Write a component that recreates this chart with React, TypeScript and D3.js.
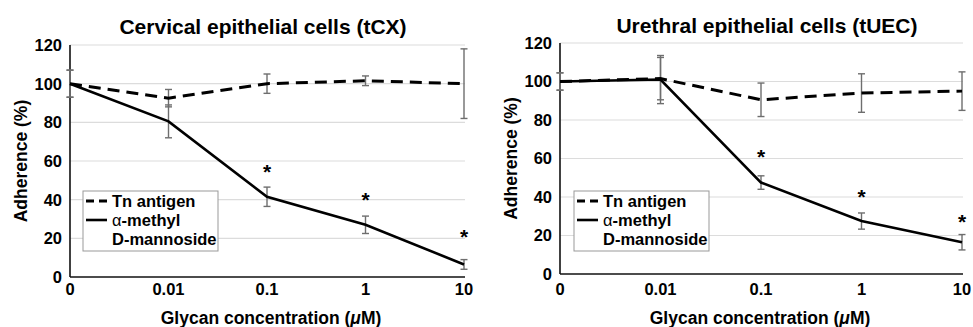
import React from "react";
import * as d3 from "d3";

const categories = ["0", "0.01", "0.1", "1", "10"];
const yTicks = [0, 20, 40, 60, 80, 100, 120];

const cxTitle = "Cervical epithelial cells (tCX)";
const cxTnMean = [100, 92.5, 100, 101.5, 100];
const cxTnErr = [7, 4.5, 5, 2.5, 18];
const cxManMean = [100, 80.5, 41.5, 27, 6.5];
const cxManErr = [7, 8.5, 5, 4.5, 2.5];
const cxStar = [null, null, 57, 42.5, 23.5];

const uecTitle = "Urethral epithelial cells (tUEC)";
const uecTnMean = [100, 101.5, 90.5, 94, 95];
const uecTnErr = [4.5, 11, 8.7, 10, 10];
const uecManMean = [100, 101, 47.5, 27.5, 16.5];
const uecManErr = [4.5, 12.5, 3.5, 4.2, 4];
const uecStar = [null, null, 63.5, 42.5, 29.5];

const seriesNames = ["Tn antigen", "α-methyl", "D-mannoside"];

const FONT = "'Liberation Sans', Arial, Helvetica, sans-serif";

type PanelProps = {
  title: string;
  tnMean: number[];
  tnErr: number[];
  manMean: number[];
  manErr: number[];
  stars: (number | null)[];
  xr: [number, number];
  yr: [number, number];
  gridEnd: number;
  titleX: number;
  titleY: number;
  yTitleX: number;
  xTitleX: number;
  legX: number;
  legY: number;
};

function Panel(p: PanelProps) {
  const x = d3.scalePoint<string>().domain(categories).range(p.xr).padding(0);
  const y = d3.scaleLinear().domain([0, 120]).range(p.yr);
  const line = d3
    .line<number>()
    .x((_, i) => x(categories[i]) as number)
    .y((d) => y(d));
  const axisX = p.xr[0];
  const errColor = "#6e6e6e";
  const bars = (mean: number[], err: number[], key: string) =>
    mean.map((m, i) => {
      const cx = x(categories[i]) as number;
      const y1 = y(m + err[i]);
      const y2 = y(m - err[i]);
      return (
        <g key={key + i} stroke={errColor} strokeWidth={1.4}>
          <line x1={cx} x2={cx} y1={y1} y2={y2} />
          <line x1={cx - 3.5} x2={cx + 3.5} y1={y1} y2={y1} />
          <line x1={cx - 3.5} x2={cx + 3.5} y1={y2} y2={y2} />
        </g>
      );
    });
  const lx = p.legX;
  const ly = p.legY;
  return (
    <g fontFamily={FONT} fontWeight="bold">
      {yTicks.slice(1).map((t) => (
        <line key={"g" + t} x1={axisX} x2={p.gridEnd} y1={y(t)} y2={y(t)} stroke="#dcdcdc" strokeWidth={1.2} />
      ))}
      <line x1={axisX} x2={axisX} y1={y(120)} y2={y(0)} stroke="#111" strokeWidth={1.6} />
      <line x1={axisX} x2={p.gridEnd} y1={y(0)} y2={y(0)} stroke="#111" strokeWidth={1.6} />
      {yTicks.map((t) => (
        <text key={"yt" + t} x={axisX - 8} y={y(t)} dy="0.36em" textAnchor="end" fontSize={16.5}>
          {t}
        </text>
      ))}
      {categories.map((c) => (
        <text key={"xt" + c} x={x(c) as number} y={295} textAnchor="middle" fontSize={16.5}>
          {c}
        </text>
      ))}
      <text x={p.titleX} y={p.titleY} textAnchor="middle" fontSize={21}>
        {p.title}
      </text>
      <text x={p.xTitleX} y={324} textAnchor="middle" fontSize={17.5}>
        Glycan concentration (<tspan fontStyle="italic">μ</tspan>M)
      </text>
      <text
        transform={`translate(${p.yTitleX},${(p.yr[0] + p.yr[1]) / 2}) rotate(-90)`}
        textAnchor="middle"
        fontSize={17.5}
        dy="0.35em"
      >
        Adherence (%)
      </text>
      {bars(p.tnMean, p.tnErr, "tn")}
      {bars(p.manMean, p.manErr, "man")}
      <path d={line(p.tnMean) || ""} fill="none" stroke="#000" strokeWidth={3} strokeDasharray="12,7" />
      <path d={line(p.manMean) || ""} fill="none" stroke="#000" strokeWidth={2.6} />
      {p.stars.map((s, i) =>
        s == null ? null : (
          <text key={"s" + i} x={x(categories[i]) as number} y={y(s) + 12} textAnchor="middle" fontSize={21}>
            *
          </text>
        )
      )}
      <rect x={lx} y={ly} width={135} height={60} fill="#fff" stroke="#999" strokeWidth={1} />
      <line x1={lx + 3} x2={lx + 24} y1={ly + 10} y2={ly + 10} stroke="#000" strokeWidth={3} strokeDasharray="8,5" />
      <line x1={lx + 3} x2={lx + 24} y1={ly + 29} y2={ly + 29} stroke="#000" strokeWidth={2.6} />
      <text x={lx + 29} y={ly + 10} dy="0.36em" fontSize={16.5}>
        {seriesNames[0]}
      </text>
      <text x={lx + 29} y={ly + 29} dy="0.36em" fontSize={16.5}>
        <tspan fontWeight="normal">α</tspan>
        {seriesNames[1].slice(1)}
      </text>
      <text x={lx + 29} y={ly + 48} dy="0.36em" fontSize={16.5}>
        {seriesNames[2]}
      </text>
    </g>
  );
}

export default function App() {
  return (
    <svg
      width={973}
      height={327}
      style={{ position: "absolute", left: 0, top: 0, background: "#fff" }}
    >
      <rect width={973} height={327} fill="#fff" />
      <Panel
        title={cxTitle}
        tnMean={cxTnMean}
        tnErr={cxTnErr}
        manMean={cxManMean}
        manErr={cxManErr}
        stars={cxStar}
        xr={[70, 464]}
        yr={[277, 45]}
        gridEnd={465}
        titleX={263}
        titleY={34}
        yTitleX={21}
        xTitleX={271}
        legX={83}
        legY={191}
      />
      <Panel
        title={uecTitle}
        tnMean={uecTnMean}
        tnErr={uecTnErr}
        manMean={uecManMean}
        manErr={uecManErr}
        stars={uecStar}
        xr={[560, 962]}
        yr={[274, 43]}
        gridEnd={963}
        titleX={767}
        titleY={33}
        yTitleX={511}
        xTitleX={760}
        legX={574}
        legY={191}
      />
    </svg>
  );
}
